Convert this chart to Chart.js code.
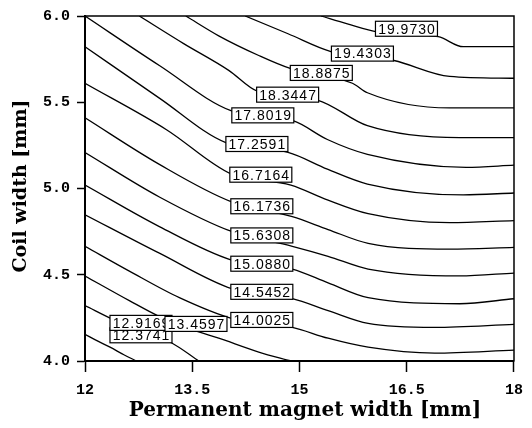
<!DOCTYPE html>
<html>
<head>
<meta charset="utf-8">
<script src="https://cdn.jsdelivr.net/npm/chart.js@4.4.1/dist/chart.umd.min.js"></script>
<style>
    html, body { margin: 0; padding: 0; background: #fff; }
    #wrap { width: 532px; height: 428px; }
</style>
</head>
<body>
<div id="wrap"><canvas id="contourChart" width="532" height="428"></canvas></div>
<script>
const xTicks = [12, 13.5, 15, 16.5, 18];
const yTicks = [4.0, 4.5, 5.0, 5.5, 6.0];
const levels = ['12.3741', '12.9169', '13.4597', '14.0025', '14.5452', '15.0880', '15.6308',
    '16.1736', '16.7164', '17.2591', '17.8019', '18.3447', '18.8875', '19.4303', '19.9730'];

// contour lines: [magnet width, coil width]
const line12_3741 = [[12.00, 4.155], [12.18, 4.115], [12.35, 4.080], [12.55, 4.035], [12.72, 4.0]];
const line12_9169 = [[12.00, 4.321], [12.42, 4.235], [12.76, 4.178], [13.22, 4.103], [13.59, 4.0]];
const line13_4597 = [[12.00, 4.493], [12.62, 4.350], [13.04, 4.258], [13.53, 4.178], [13.87, 4.132], [14.43, 4.052], [14.88, 4.0]];
const line14_0025 = [[12.00, 4.665], [12.62, 4.521], [13.32, 4.367], [14.06, 4.246], [14.90, 4.195], [15.40, 4.132], [15.96, 4.080], [16.89, 4.046], [18.00, 4.063]];
const line14_5452 = [[12.00, 4.848], [13.04, 4.625], [14.06, 4.418], [14.90, 4.361], [15.40, 4.292], [15.96, 4.218], [16.89, 4.195], [18.00, 4.212]];
const line15_0880 = [[12.00, 5.020], [13.04, 4.779], [14.05, 4.585], [14.90, 4.533], [15.40, 4.453], [15.96, 4.367], [17.24, 4.332], [18.00, 4.361]];
const line15_6308 = [[12.00, 5.209], [13.04, 4.951], [14.05, 4.751], [14.90, 4.665], [15.40, 4.607], [15.96, 4.533], [17.24, 4.493], [18.00, 4.510]];
const line16_1736 = [[12.00, 5.410], [13.04, 5.140], [14.05, 4.923], [14.90, 4.837], [15.40, 4.762], [15.96, 4.682], [17.10, 4.648], [18.00, 4.659]];
const line16_7164 = [[12.00, 5.610], [13.14, 5.341], [14.05, 5.083], [14.88, 5.020], [15.39, 4.934], [15.96, 4.854], [17.10, 4.802], [18.00, 4.814]];
const line17_2591 = [[12.00, 5.822], [13.04, 5.524], [13.97, 5.266], [14.84, 5.209], [15.39, 5.112], [15.95, 5.026], [17.29, 4.963], [18.00, 4.974]];
const line17_8019 = [[12.00, 6.000], [13.04, 5.713], [14.05, 5.450], [14.91, 5.393], [15.39, 5.284], [15.95, 5.198], [17.33, 5.123], [18.00, 5.135]];
const line18_3447 = [[12.76, 6.000], [13.38, 5.840], [14.01, 5.685], [14.41, 5.564], [15.25, 5.513], [15.95, 5.364], [17.24, 5.295], [18.00, 5.295]];
const line18_8875 = [[13.41, 6.000], [13.87, 5.885], [14.43, 5.771], [14.87, 5.696], [15.74, 5.610], [15.95, 5.555], [17.10, 5.467], [18.00, 5.467]];
const line19_4303 = [[14.24, 6.000], [14.84, 5.897], [15.44, 5.794], [16.32, 5.742], [17.10, 5.650], [18.00, 5.639]];
const line19_9730 = [[15.30, 6.000], [15.67, 5.954], [16.09, 5.908], [16.94, 5.880], [17.29, 5.822], [18.00, 5.822]];

const contourLines = [line12_3741, line12_9169, line13_4597, line14_0025, line14_5452, line15_0880,
    line15_6308, line16_1736, line16_7164, line17_2591, line17_8019, line18_3447, line18_8875,
    line19_4303, line19_9730];

// where each level's label box sits (centre, data units)
const labelX = [12.783, 12.783, 13.552, 14.473, 14.473, 14.473, 14.473, 14.473, 14.459, 14.404, 14.487, 14.834, 15.305, 15.880, 16.496];
const labelY = [4.149, 4.221, 4.215, 4.238, 4.401, 4.564, 4.728, 4.897, 5.080, 5.258, 5.424, 5.544, 5.670, 5.782, 5.926];

const tickFont = { family: '"Liberation Mono", monospace', size: 15, weight: 'bold' };

const contourDecor = {
    id: 'contourDecor',
    afterDatasetsDraw(chart) {
        const { ctx, chartArea, scales } = chart;

        ctx.save();
        ctx.strokeStyle = '#000';
        ctx.lineWidth = 1.5;
        ctx.strokeRect(chartArea.left, chartArea.top, chartArea.right - chartArea.left, chartArea.bottom - chartArea.top);

        // level labels, drawn in ascending order so later boxes cover earlier ones
        ctx.font = '14px "Liberation Sans", Arial, sans-serif';
        ctx.letterSpacing = '1px';
        ctx.textAlign = 'center';
        ctx.textBaseline = 'middle';
        levels.forEach((txt, i) => {
            const cx = scales.x.getPixelForValue(labelX[i]);
            const cy = scales.y.getPixelForValue(labelY[i]);
            const w = 62, h = 15;
            ctx.fillStyle = '#fff';
            ctx.fillRect(cx - w / 2, cy - h / 2, w, h);
            ctx.lineWidth = 1.2;
            ctx.strokeRect(cx - w / 2, cy - h / 2, w, h);
            ctx.fillStyle = '#000';
            ctx.fillText(txt, cx + 0.5, cy + 1);
        });
        ctx.restore();
    },
    afterDraw(chart) {
        const { ctx } = chart;
        ctx.save();
        ctx.fillStyle = '#000';
        ctx.textAlign = 'center';
        ctx.textBaseline = 'middle';
        ctx.font = 'bold 20px "DejaVu Serif", serif';
        ctx.fillText('Permanent magnet width [mm]', 305, 411);

        ctx.font = 'bold 19px "DejaVu Serif", serif';
        ctx.translate(21, 186);
        ctx.rotate(-Math.PI / 2);
        ctx.fillText('Coil width [mm]', 0, 0);
        ctx.restore();
    }
};

const ctx = document.getElementById('contourChart').getContext('2d');
new Chart(ctx, {
    type: 'scatter',
    data: {
        datasets: contourLines.map((pts, i) => ({
            label: levels[i],
            data: pts.map(p => ({ x: p[0], y: p[1] })),
            showLine: true,
            borderColor: '#000',
            borderWidth: 1.3,
            pointRadius: 0,
            fill: false,
            cubicInterpolationMode: 'monotone'
        }))
    },
    options: {
        responsive: false,
        animation: false,
        layout: { padding: { top: 12, right: 14, left: 0, bottom: 0 } },
        plugins: {
            legend: { display: false },
            tooltip: { enabled: false }
        },
        scales: {
            x: {
                type: 'linear',
                min: 12,
                max: 18,
                afterBuildTicks: scale => { scale.ticks = xTicks.map(v => ({ value: v })); },
                afterFit: scale => { scale.height = 67; },
                grid: { drawOnChartArea: false, tickLength: 11, tickColor: '#000', tickWidth: 1.5 },
                border: { color: '#000', width: 2 },
                ticks: {
                    color: '#000',
                    font: tickFont,
                    padding: 9,
                    maxRotation: 0,
                    autoSkip: false,
                    callback: v => String(v)
                }
            },
            y: {
                type: 'linear',
                min: 4,
                max: 6,
                afterBuildTicks: scale => { scale.ticks = yTicks.map(v => ({ value: v })); },
                afterFit: scale => { scale.width = 85; },
                grid: { drawOnChartArea: false, tickLength: 8, tickColor: '#000', tickWidth: 1.5 },
                border: { color: '#000', width: 2 },
                ticks: {
                    color: '#000',
                    font: tickFont,
                    padding: 7,
                    autoSkip: false,
                    callback: v => v.toFixed(1)
                }
            }
        }
    },
    plugins: [contourDecor]
});
</script>
</body>
</html>
